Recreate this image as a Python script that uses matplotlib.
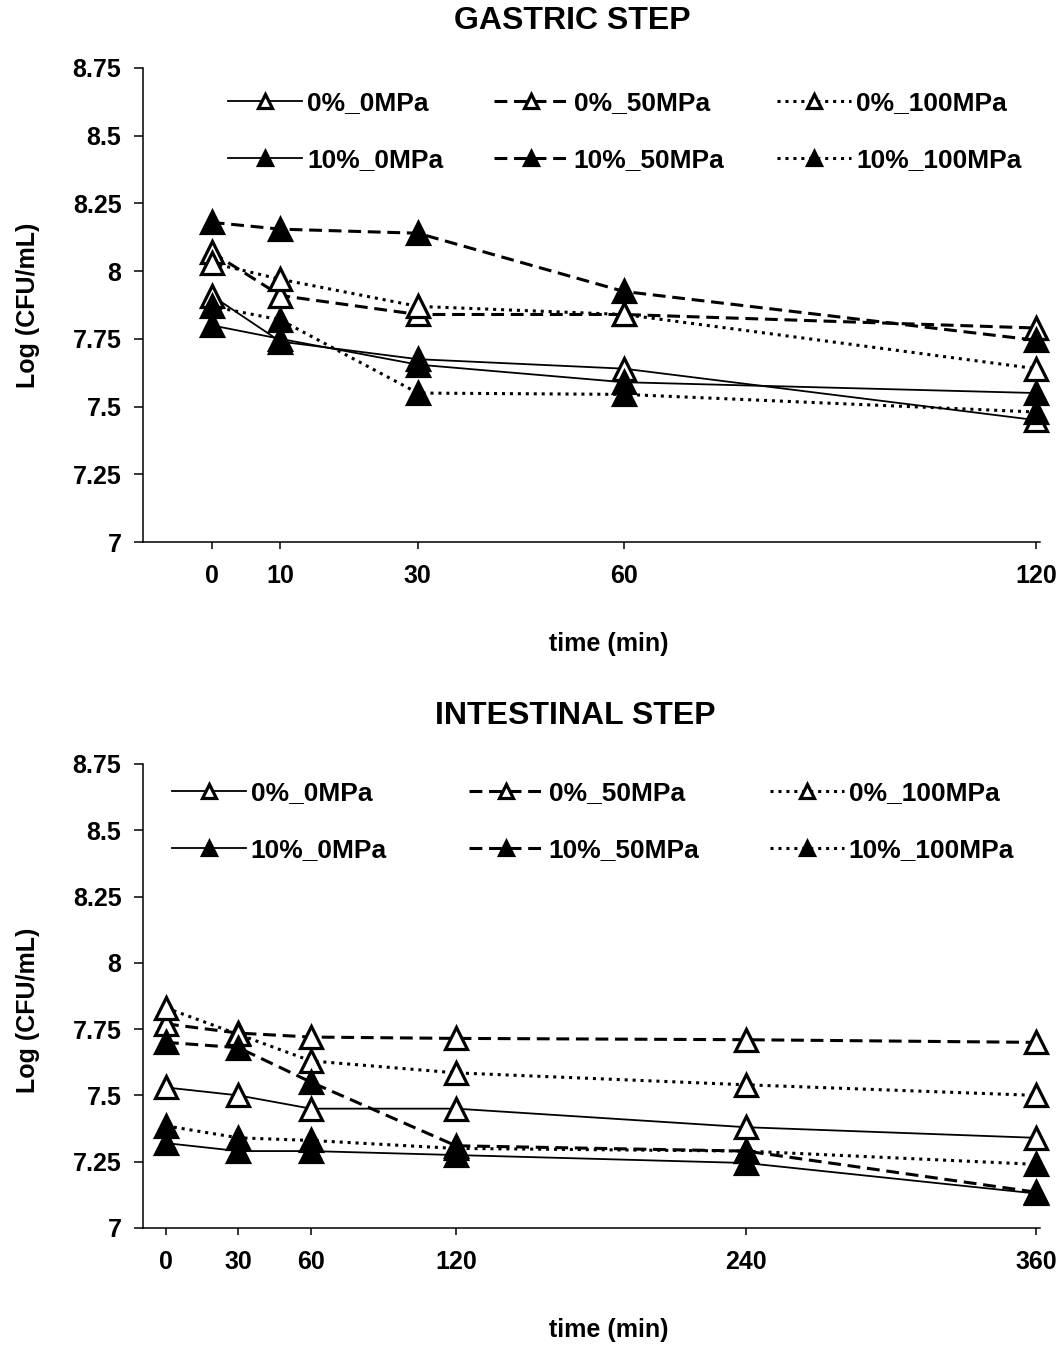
import matplotlib
matplotlib.use("Agg")
import matplotlib.pyplot as plt
from matplotlib.ticker import FuncFormatter

plt.rcParams['font.family'] = ['Liberation Sans', 'DejaVu Sans']
plt.rcParams['font.weight'] = 'bold'

# gastric step
g_time = [0, 10, 30, 60, 120]
g_0_0 = [7.91, 7.74, 7.675, 7.64, 7.45]
g_0_50 = [8.07, 7.91, 7.84, 7.84, 7.79]
g_0_100 = [8.03, 7.97, 7.87, 7.84, 7.64]
g_10_0 = [7.80, 7.75, 7.655, 7.59, 7.55]
g_10_50 = [8.18, 8.155, 8.14, 7.925, 7.745]
g_10_100 = [7.87, 7.82, 7.55, 7.545, 7.48]

# intestinal step
i_time = [0, 30, 60, 120, 240, 360]
i_0_0 = [7.53, 7.50, 7.45, 7.45, 7.38, 7.34]
i_0_50 = [7.77, 7.735, 7.72, 7.715, 7.71, 7.70]
i_0_100 = [7.83, 7.73, 7.63, 7.585, 7.54, 7.50]
i_10_0 = [7.32, 7.29, 7.29, 7.275, 7.245, 7.13]
i_10_50 = [7.70, 7.68, 7.55, 7.31, 7.29, 7.135]
i_10_100 = [7.385, 7.34, 7.33, 7.30, 7.29, 7.24]

labels = ["0%_0MPa", "0%_50MPa", "0%_100MPa", "10%_0MPa", "10%_50MPa", "10%_100MPa"]
y_ticks = [7, 7.25, 7.5, 7.75, 8, 8.25, 8.5, 8.75]

solid = dict(ls='-', lw=1.3)
dashed = dict(ls=(0, (4.2, 2.2)), lw=2.2)
dotted = dict(ls=(0, (1, 1.6)), lw=2.2)
styles = [solid, dashed, dotted, solid, dashed, dotted]
faces = ['white', 'white', 'white', 'black', 'black', 'black']

fig = plt.figure(figsize=(10.64, 13.46), dpi=100)
ax1 = fig.add_axes([0.1344, 0.5973, 0.8426, 0.3522])
ax2 = fig.add_axes([0.1344, 0.0877, 0.8426, 0.3447])


def draw(ax, t, series, xlim, legx, legy):
    lines = []
    for k, (y, st, fc) in enumerate(zip(series, styles, faces)):
        ln, = ax.plot(t, y, color='black', marker='^', ms=16, mew=2.3,
                      mfc=fc, mec='black', dash_capstyle='butt',
                      zorder=3 + k, clip_on=False, **st)
        lines.append(ln)
    ax.set_xlim(*xlim)
    ax.set_ylim(7, 8.75)
    ax.set_xticks(t)
    ax.set_yticks(y_ticks)
    ax.yaxis.set_major_formatter(FuncFormatter(lambda v, p: '{:g}'.format(v)))
    for s in ['top', 'right']:
        ax.spines[s].set_visible(False)
    for s in ['left', 'bottom']:
        ax.spines[s].set_linewidth(1.1)
    ax.tick_params(axis='y', direction='out', length=6.5, width=1.1, pad=9, labelsize=18)
    ax.tick_params(axis='x', direction='out', length=5, width=1.1, pad=11, labelsize=18)
    ax.set_ylabel("Log (CFU/mL)", fontsize=18, fontweight='bold')
    ax.set_xlabel("time (min)", fontsize=18, fontweight='bold')
    # three legend columns, two rows each
    legs = []
    for c in range(3):
        leg = ax.legend([lines[c], lines[c + 3]], [labels[c], labels[c + 3]],
                        loc='center left', bbox_to_anchor=(legx[c], legy),
                        frameon=False, fontsize=19, handlelength=2.8,
                        handletextpad=0.2, labelspacing=1.25, borderpad=0,
                        borderaxespad=0, markerscale=0.6, numpoints=1)
        legs.append(leg)
    for leg in legs[:-1]:
        ax.add_artist(leg)
    return lines


draw(ax1, g_time, [g_0_0, g_0_50, g_0_100, g_10_0, g_10_50, g_10_100],
     (-10, 120.5), [0.095, 0.392, 0.707], 0.866)
draw(ax2, i_time, [i_0_0, i_0_50, i_0_100, i_10_0, i_10_50, i_10_100],
     (-9.5, 361.5), [0.032, 0.364, 0.699], 0.876)

ax1.yaxis.set_label_coords(-0.115, 0.5)
ax2.yaxis.set_label_coords(-0.115, 0.47)
ax1.xaxis.set_label_coords(0.52, -0.19)
ax2.xaxis.set_label_coords(0.52, -0.195)

fig.text(572 / 1064, 1 - 21 / 1346, "GASTRIC STEP", ha='center', va='center',
         fontsize=23, fontweight='bold')
fig.text(575 / 1064, 1 - 716 / 1346, "INTESTINAL STEP", ha='center', va='center',
         fontsize=23, fontweight='bold')

fig.savefig("out.png", dpi=100)
